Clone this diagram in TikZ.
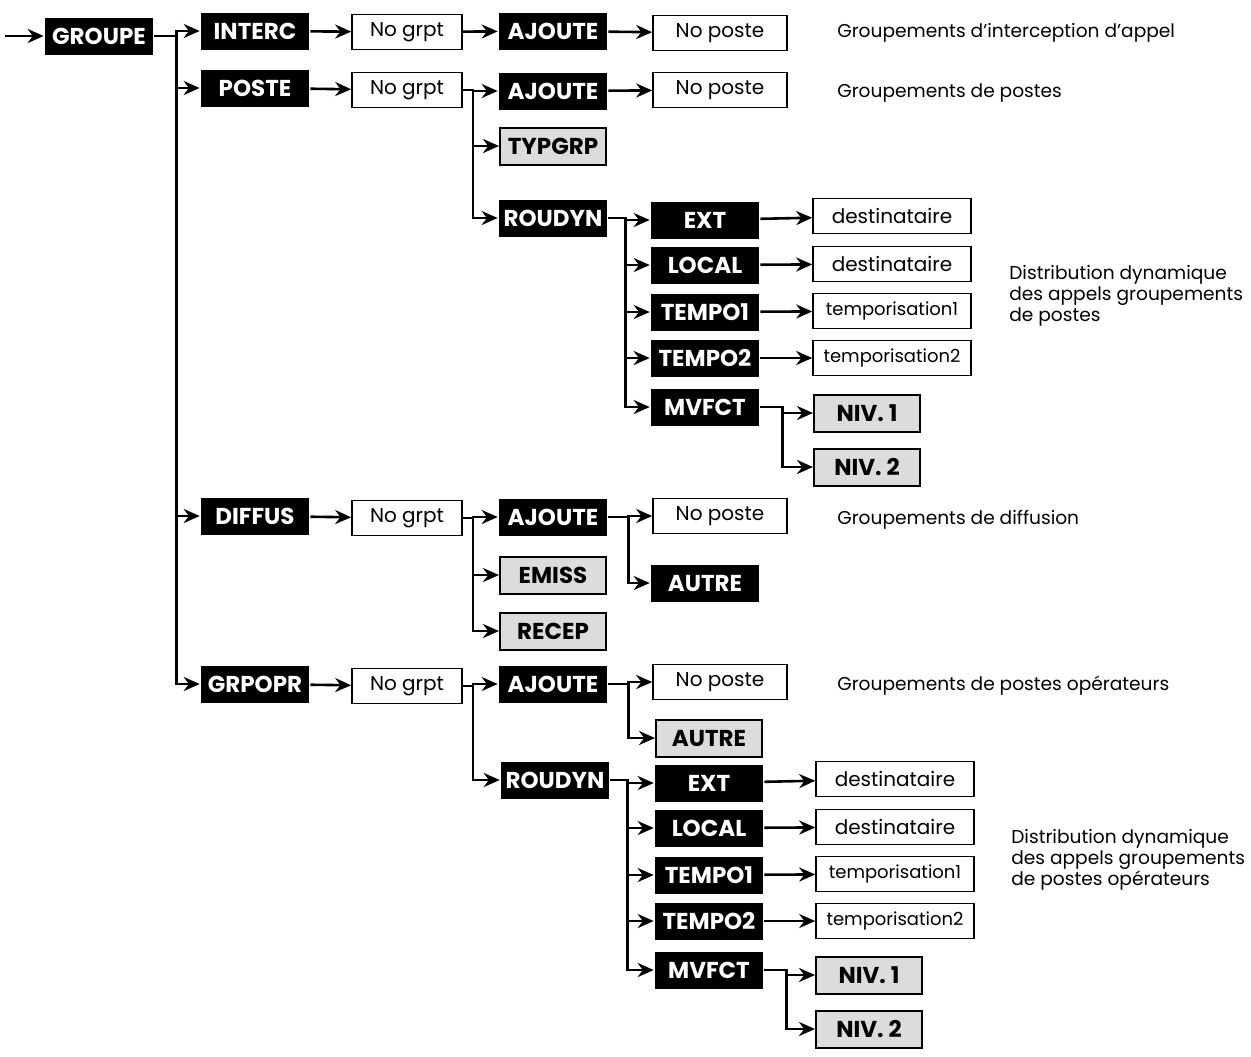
\documentclass[tikz,border=0pt]{standalone}
\usepackage{fontspec}
\setmainfont{Poppins}
\usetikzlibrary{arrows.meta}
\definecolor{grise}{HTML}{DCDCDC}
\tikzset{
  cmd/.style={fill=black,text=white,font=\fontsize{11.5}{12}\selectfont\bfseries,
    inner sep=0pt,minimum width=54pt,minimum height=18.5pt},
  opt/.style={cmd,fill=grise,text=black,draw=black,line width=1pt,minimum width=53pt},
  val/.style={draw,line width=0.8pt,font=\fontsize{10}{10}\selectfont,
    inner sep=0pt,minimum height=17.5pt},
  lbl/.style={anchor=west,align=left,font=\fontsize{9.3}{10.5}\selectfont,inner sep=0pt},
  every path/.style={line width=1.3pt},
  fl/.style={-{Stealth[length=8pt,width=7pt]}}
}
\newcommand{\branche}[3]{\draw[fl] (#1.east) -- ++(#3,0) |- (#2.west);}
\begin{document}
\begin{tikzpicture}[x=0.5pt,y=-0.5pt]
  \useasboundingbox (0,0) rectangle (1251,1056);
  \path
  (5,36) coordinate(in)
  (99,36) node[cmd](groupe) {GROUPE}
  (255,31) node[cmd](interc) {INTERC}
  (255,88) node[cmd](poste) {POSTE}
  (255,516) node[cmd](diffus) {DIFFUS}
  (255,684) node[cmd](grpopr) {GRPOPR}

  (407,32) node[val,minimum width=55pt](grptA) {No grpt}
  (407,90) node[val,minimum width=55pt](grptB) {No grpt}
  (407,518) node[val,minimum width=55pt](grptC) {No grpt}
  (407,686) node[val,minimum width=55pt](grptD) {No grpt}

  (553,31) node[cmd](ajouteA) {AJOUTE}
  (553,91) node[cmd](ajouteB) {AJOUTE}
  (553,146) node[opt](typgrp) {TYPGRP}
  (553,218) node[cmd](roudynB) {ROUDYN}
  (553,517) node[cmd](ajouteC) {AJOUTE}
  (553,575) node[opt](emiss) {EMISS}
  (553,631) node[opt](recep) {RECEP}
  (553,684) node[cmd](ajouteD) {AJOUTE}
  (555,780) node[cmd](roudynD) {ROUDYN}

  (720,33) node[val,minimum width=67pt](posteA) {No poste}
  (720,90) node[val,minimum width=67pt](posteB) {No poste}
  (720,516) node[val,minimum width=67pt](posteC) {No poste}
  (720,682) node[val,minimum width=67pt](posteD) {No poste}
  (705,583) node[cmd](autreC) {AUTRE}
  (709,738) node[opt](autreD) {AUTRE}
  ;
  % distribution dynamique, postes puis postes operateurs
  \foreach \s/\x/\y/\xv/\yv/\xn/\yn in {B/705/220/892/216/867/413,D/709/783/895/779/869/975}{
    \path
    (\x,\y) node[cmd](ext\s) {EXT}
    (\x,\y+45) node[cmd](local\s) {LOCAL}
    (\x,\y+92) node[cmd](tempoa\s) {TEMPO1}
    (\x,\y+138) node[cmd](tempob\s) {TEMPO2}
    (\x,\y+187) node[cmd](mvfct\s) {MVFCT}
    (\xv,\yv) node[val,minimum width=79pt](dext\s) {destinataire}
    (\xv,\yv+48) node[val,minimum width=79pt](dlocal\s) {destinataire}
    (\xv,\yv+95) node[val,minimum width=79pt,font=\fontsize{9}{9}\selectfont](tpa\s) {temporisation1}
    (\xv,\yv+142) node[val,minimum width=79pt,font=\fontsize{9}{9}\selectfont](tpb\s) {temporisation2}
    (\xn,\yn) node[opt](niva\s) {NIV. 1}
    (\xn,\yn+54) node[opt](nivb\s) {NIV. 2}
    ;
    \draw[fl] (ext\s) -- (dext\s);
    \draw[fl] (local\s) -- (dlocal\s);
    \draw[fl] (tempoa\s) -- (tpa\s);
    \draw[fl] (tempob\s) -- (tpb\s);
    \branche{roudyn\s}{ext\s}{17}
    \branche{roudyn\s}{local\s}{17}
    \branche{roudyn\s}{tempoa\s}{17}
    \branche{roudyn\s}{tempob\s}{17}
    \branche{roudyn\s}{mvfct\s}{17}
    \branche{mvfct\s}{niva\s}{22}
    \branche{mvfct\s}{nivb\s}{22}
  }

  \path
  (836,33) node[lbl](txtA) {Groupements d’interception d’appel}
  (836,93) node[lbl](txtB) {Groupements de postes}
  (1008,296) node[lbl](txtR) {Distribution dynamique\\des appels groupements\\de postes}
  (836,520) node[lbl](txtC) {Groupements de diffusion}
  (836,686) node[lbl](txtD) {Groupements de postes opérateurs}
  (1010,860) node[lbl](txtS) {Distribution dynamique\\des appels groupements\\de postes opérateurs}
  ;

  \draw[fl] (in) -- (groupe);
  \branche{groupe}{interc}{22}
  \branche{groupe}{poste}{22}
  \branche{groupe}{diffus}{22}
  \branche{groupe}{grpopr}{22}
  \draw[fl] (interc) -- (grptA);
  \draw[fl] (poste) -- (grptB);
  \draw[fl] (diffus) -- (grptC);
  \draw[fl] (grpopr) -- (grptD);
  \draw[fl] (grptA) -- (ajouteA);
  \draw[fl] (ajouteA) -- (posteA);
  \branche{grptB}{ajouteB}{10}
  \branche{grptB}{typgrp}{10}
  \branche{grptB}{roudynB}{10}
  \draw[fl] (ajouteB) -- (posteB);
  \branche{grptC}{ajouteC}{10}
  \branche{grptC}{emiss}{10}
  \branche{grptC}{recep}{10}
  \branche{ajouteC}{posteC}{20}
  \branche{ajouteC}{autreC}{20}
  \branche{grptD}{ajouteD}{10}
  \branche{grptD}{roudynD}{10}
  \branche{ajouteD}{posteD}{20}
  \branche{ajouteD}{autreD}{20}
\end{tikzpicture}
\end{document}
